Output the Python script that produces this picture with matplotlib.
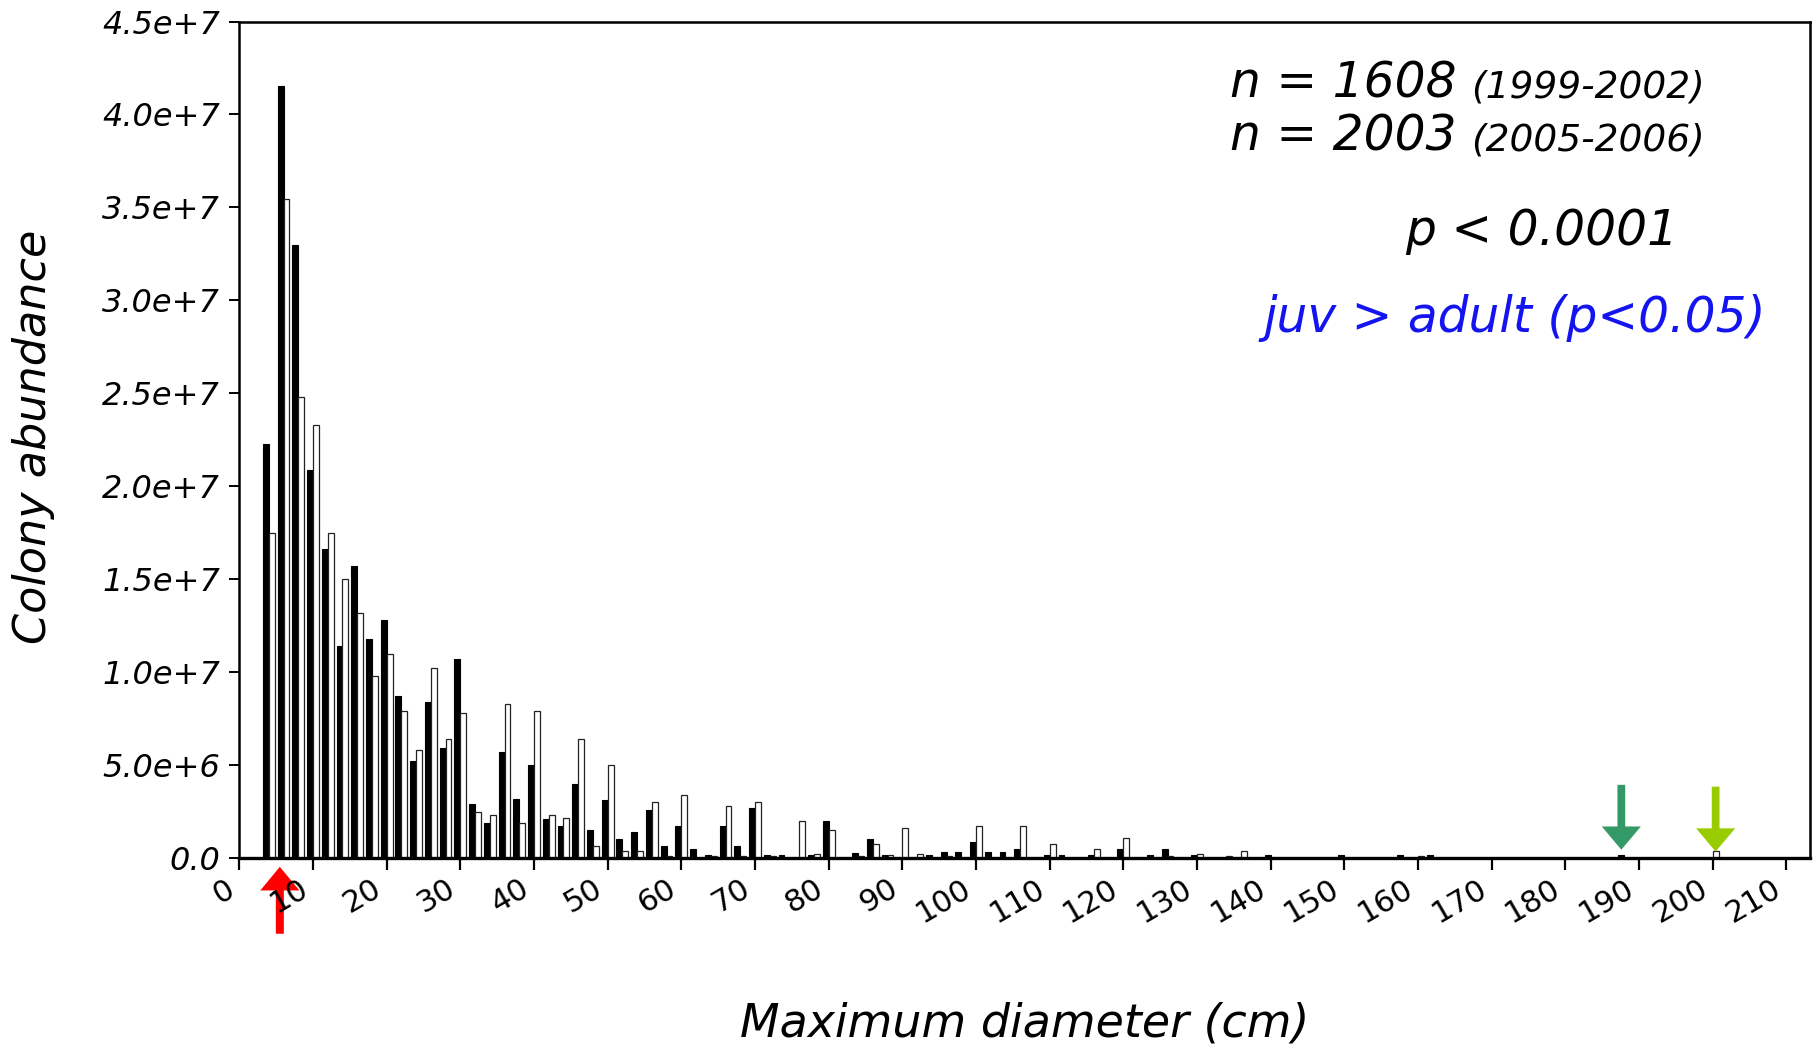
import matplotlib
matplotlib.use("Agg")
import matplotlib.pyplot as plt
from matplotlib.patches import FancyArrow

# size classes (cm), only classes with at least one bar
diameters = [4, 6, 8, 10, 12, 14, 16, 18, 20, 22, 24, 26, 28, 30, 32, 34, 36, 38,
             40, 42, 44, 46, 48, 50, 52, 54, 56, 58, 60, 62, 64, 66, 68, 70, 72,
             74, 76, 78, 80, 84, 86, 88, 90, 92, 94, 96, 98, 100, 102, 104, 106,
             110, 112, 116, 120, 124, 126, 130, 134, 136, 140, 150, 158, 160,
             162, 188, 200]

# 1999-2002 (black)
abund_9902 = [2.23e7, 4.155e7, 3.30e7, 2.09e7, 1.66e7, 1.14e7, 1.57e7, 1.18e7, 1.28e7,
              8.7e6, 5.2e6, 8.4e6, 5.9e6, 1.07e7, 2.9e6, 1.9e6, 5.7e6, 3.2e6,
              5.0e6, 2.1e6, 1.7e6, 4.0e6, 1.5e6, 3.1e6, 1.0e6, 1.4e6, 2.6e6, 6.6e5,
              1.7e6, 5.0e5, 1.4e5, 1.7e6, 6.6e5, 2.7e6, 1.4e5,
              1.4e5, 0, 1.4e5, 2.0e6, 3.0e5, 1.0e6, 1.4e5, 0, 0, 1.4e5, 3.2e5, 3.2e5,
              8.4e5, 3.2e5, 3.2e5, 5.0e5,
              1.4e5, 1.4e5, 1.4e5, 5.0e5, 1.4e5, 5.0e5, 1.4e5, 0, 0, 1.4e5, 1.4e5,
              1.4e5, 0, 1.4e5, 1.4e5, 0]

# 2005-2006 (white)
abund_0506 = [1.75e7, 3.545e7, 2.48e7, 2.33e7, 1.75e7, 1.50e7, 1.32e7, 9.8e6, 1.10e7,
              7.9e6, 5.8e6, 1.02e7, 6.4e6, 7.8e6, 2.5e6, 2.3e6, 8.3e6, 1.9e6,
              7.9e6, 2.3e6, 2.15e6, 6.4e6, 6.3e5, 5.0e6, 3.6e5, 3.6e5, 3.0e6, 1.3e5,
              3.4e6, 0, 1.0e5, 2.8e6, 1.3e5, 3.0e6, 1.2e5,
              0, 2.0e6, 2.3e5, 1.5e6, 1.2e5, 7.6e5, 1.4e5, 1.6e6, 2.3e5, 0, 1.0e5, 0,
              1.74e6, 0, 0, 1.74e6,
              7.7e5, 0, 5.0e5, 1.07e6, 0, 1.0e5, 2.3e5, 1.2e5, 3.9e5, 0, 0,
              0, 1.2e5, 0, 0, 3.9e5]

xticks = list(range(0, 220, 10))
yticks = [0, 5e6, 1e7, 1.5e7, 2e7, 2.5e7, 3e7, 3.5e7, 4e7, 4.5e7]
ytick_labels = ["0.0", "5.0e+6", "1.0e+7", "1.5e+7", "2.0e+7", "2.5e+7",
                "3.0e+7", "3.5e+7", "4.0e+7", "4.5e+7"]

fig = plt.figure(figsize=(18.13, 10.49), dpi=100)
ax = fig.add_axes([0.132, 0.182, 0.8663, 0.7975])

w = 0.8
ax.bar([d - w / 2 for d in diameters], abund_9902, width=w, color="black",
       edgecolor="black", linewidth=0.8)
ax.bar([d + w / 2 for d in diameters], abund_0506, width=w, color="white",
       edgecolor="#222222", linewidth=0.9)

ax.set_xlim(0, 213.2)
ax.set_ylim(0, 4.5e7)

ax.set_xticks(xticks)
ax.set_xticklabels([str(t) for t in xticks], rotation=30, ha="right",
                   fontsize=22, family="DejaVu Sans")
ax.set_yticks(yticks)
ax.set_yticklabels(ytick_labels, fontsize=23, family="DejaVu Sans", style="oblique")
ax.tick_params(axis="x", direction="out", length=8.5, width=1.6, pad=3)
ax.tick_params(axis="y", direction="out", length=7, width=1.4, pad=7)
for s in ax.spines.values():
    s.set_linewidth(1.8)
ax.spines["bottom"].set_linewidth(2.4)

fig.text(0.0187, 0.584, "Colony abundance", rotation=90, ha="center", va="center",
         fontsize=32, family="DejaVu Sans", style="oblique")
fig.text(0.565, 0.024, "Maximum diameter (cm)", ha="center", va="center",
         fontsize=33, family="DejaVu Sans", style="oblique")

# arrows
ax.add_patch(FancyArrow(187.6, 3.94e6, 0, 4.5e5 - 3.94e6, width=1.05, head_width=5.3,
                        head_length=1.25e6, length_includes_head=True,
                        color="#339966", lw=0))
ax.add_patch(FancyArrow(200.4, 3.84e6, 0, 3.5e5 - 3.84e6, width=1.05, head_width=5.3,
                        head_length=1.25e6, length_includes_head=True,
                        color="#99cc00", lw=0))
ax.add_patch(FancyArrow(5.5, -4.07e6, 0, -4.7e5 + 4.07e6, width=1.09, head_width=5.3,
                        head_length=1.27e6, length_includes_head=True,
                        color="red", lw=0, clip_on=False))

txt = dict(transform=ax.transAxes, family="DejaVu Sans", style="oblique")
ax.text(0.631, 0.909, "n = 1608", fontsize=35, **txt)
ax.text(0.784, 0.909, "(1999-2002)", fontsize=27, **txt)
ax.text(0.631, 0.846, "n = 2003", fontsize=35, **txt)
ax.text(0.784, 0.846, "(2005-2006)", fontsize=27, **txt)
ax.text(0.742, 0.733, "p < 0.0001", fontsize=35, **txt)
ax.text(0.652, 0.629, "juv > adult (p<0.05)", fontsize=35, color="#1414f0", **txt)

fig.savefig("out.png", dpi=100)
